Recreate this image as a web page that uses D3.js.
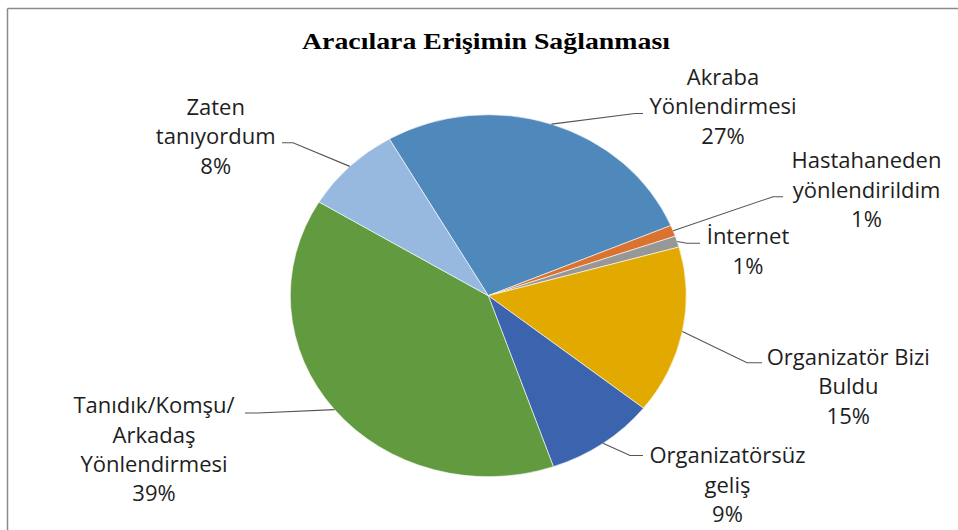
<!DOCTYPE html>
<html>
<head>
<meta charset="utf-8">
<script src="https://cdn.jsdelivr.net/npm/d3@7"></script>
<style>
  html, body { margin: 0; padding: 0; background: #fff; }
  svg { display: block; }
</style>
</head>
<body>
<svg id="chart" width="958" height="530"></svg>
<script>
// ---- data ----
const title = "Aracılara Erişimin Sağlanması";
const categories = [
  "Akraba Yönlendirmesi",
  "Hastahaneden yönlendirildim",
  "İnternet",
  "Organizatör Bizi Buldu",
  "Organizatörsüz geliş",
  "Tanıdık/Komşu/ Arkadaş Yönlendirmesi",
  "Zaten tanıyordum"
];
const values = [27, 1, 1, 15, 9, 39, 8];
const percentLabels = ["27%", "1%", "1%", "15%", "9%", "39%", "8%"];
const labelLines = [
  ["Akraba", "Yönlendirmesi"],
  ["Hastahaneden", "yönlendirildim"],
  ["İnternet"],
  ["Organizatör Bizi", "Buldu"],
  ["Organizatörsüz", "geliş"],
  ["Tanıdık/Komşu/", "Arkadaş", "Yönlendirmesi"],
  ["Zaten", "tanıyordum"]
];
const colors = ["#4F89BC", "#DA7230", "#979797", "#E2AA00", "#3C63AD", "#629B3F", "#97B9E0"];

// ---- layout (label anchor positions, leader elbows) ----
const labelLayout = [
  { cx: 723,   firstBaseline: 85,    elbow: [635, 113.5], end: [643, 113.5] },
  { cx: 866.5, firstBaseline: 168.3, elbow: [773, 196.7], end: [783, 196.7] },
  { cx: 748,   firstBaseline: 244.3, elbow: [687, 243.3], end: [700, 243.3] },
  { cx: 848.3, firstBaseline: 365,   elbow: [747, 362.7], end: [762, 362.7] },
  { cx: 727.5, firstBaseline: 463.3, elbow: [630, 455.5], end: [643, 455.5] },
  { cx: 154,   firstBaseline: 413.3, elbow: [258, 413],   end: [245, 413] },
  { cx: 215.7, firstBaseline: 115,   elbow: [293, 142.7], end: [282, 142.7] }
];
const lineHeight = 29.3;

const W = 958, H = 530;
const cx = 488.3, cy = 295.7;
const ry = 181, rx = 198;
const sx = rx / ry;
const startDeg = -30;

const svg = d3.select("#chart");

// frame (top and left border)
svg.append("line").attr("x1", 7.5).attr("y1", 8.5).attr("x2", W).attr("y2", 8.5)
  .attr("stroke", "#8a8a8a").attr("stroke-width", 1.5);
svg.append("line").attr("x1", 7.5).attr("y1", 8.5).attr("x2", 7.5).attr("y2", H)
  .attr("stroke", "#8a8a8a").attr("stroke-width", 1.5);

// title
svg.append("text")
  .attr("x", 486).attr("y", 48.5)
  .attr("text-anchor", "middle")
  .attr("font-family", "'Liberation Serif', 'Times New Roman', serif")
  .attr("font-weight", "bold")
  .attr("font-size", 23)
  .attr("textLength", 368)
  .attr("lengthAdjust", "spacingAndGlyphs")
  .attr("fill", "#000")
  .text(title);

const data = categories.map((c, i) => ({ name: c, value: values[i], i }));

const pie = d3.pie().sort(null).value(d => d.value)
  .startAngle(startDeg * Math.PI / 180)
  .endAngle((startDeg + 360) * Math.PI / 180);
const arcs = pie(data);
const arc = d3.arc().innerRadius(0).outerRadius(ry);

const g = svg.append("g").attr("transform", `translate(${cx},${cy}) scale(${sx},1)`);
g.selectAll("path").data(arcs).enter().append("path")
  .attr("d", arc)
  .attr("fill", d => colors[d.data.i])
  .attr("stroke", "#ffffff")
  .attr("stroke-width", 0.6)
  .attr("vector-effect", "non-scaling-stroke");

// leader lines
const leaders = svg.append("g");
arcs.forEach(a => {
  const mid = (a.startAngle + a.endAngle) / 2;
  const px = cx + rx * Math.sin(mid);
  const py = cy - ry * Math.cos(mid);
  const L = labelLayout[a.data.i];
  leaders.append("polyline")
    .attr("points", [[px, py], L.elbow, L.end].map(p => p.join(",")).join(" "))
    .attr("fill", "none")
    .attr("stroke", "#555")
    .attr("stroke-width", 1.1);
});

// labels
const labels = svg.append("g")
  .attr("font-family", "'Open Sans', 'Noto Sans', sans-serif")
  .attr("font-size", 22)
  .attr("fill", "#1e1e1e")
  .attr("text-anchor", "middle");
data.forEach(d => {
  const L = labelLayout[d.i];
  const lines = labelLines[d.i].concat([percentLabels[d.i]]);
  const t = labels.append("text");
  lines.forEach((ln, k) => {
    t.append("tspan").attr("x", L.cx).attr("y", L.firstBaseline + k * lineHeight).text(ln);
  });
});
</script>
</body>
</html>
